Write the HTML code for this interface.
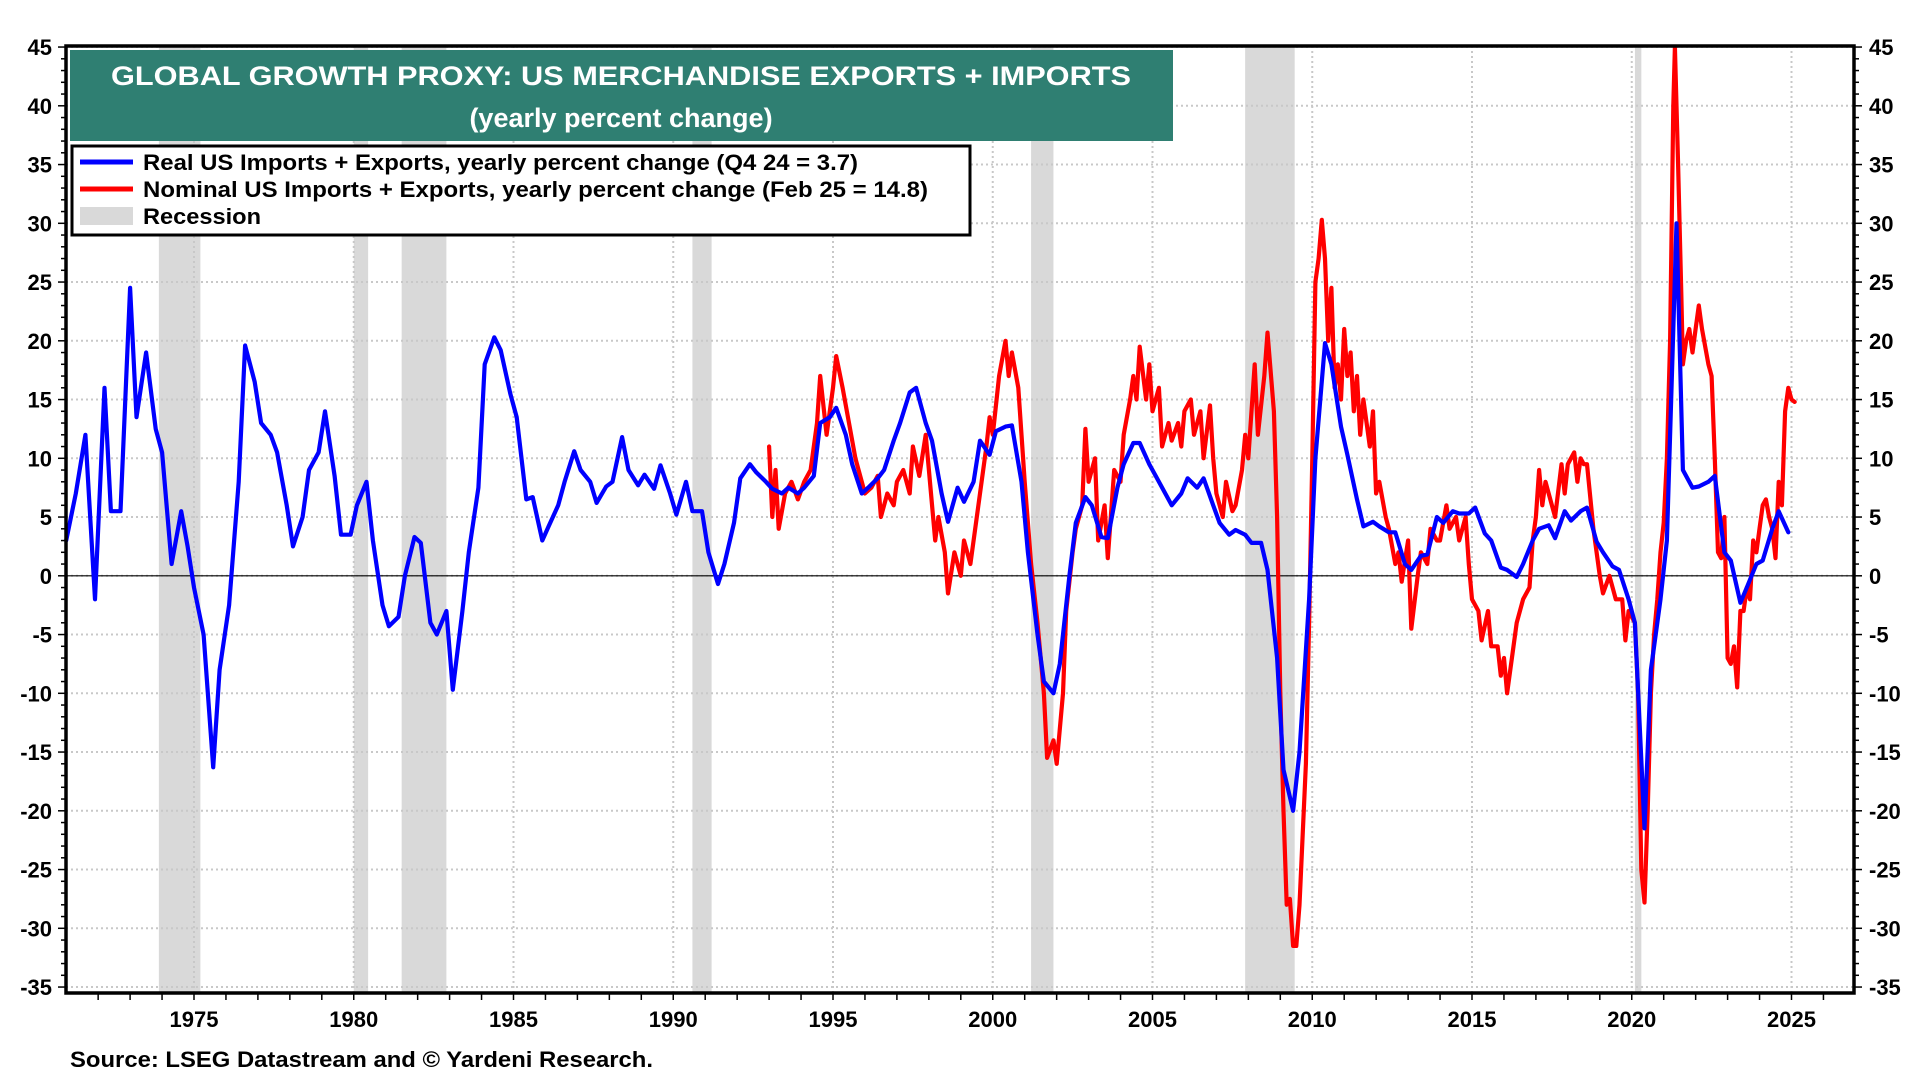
<!DOCTYPE html>
<html><head><meta charset="utf-8"><style>
html,body{margin:0;padding:0;background:#fff;}
svg{display:block;font-family:"Liberation Sans",Arial,sans-serif;font-weight:bold;}
</style></head><body>
<svg id="chart" width="1920" height="1080" viewBox="0 0 1920 1080" xmlns="http://www.w3.org/2000/svg">
<g id="recess"></g>
<g id="grid"></g>
<line id="zero" stroke="#000" stroke-width="1.2"/>
<g id="series"></g>
<g id="axes"></g>
<rect x="66" y="46" width="1788" height="947" fill="none" stroke="#000" stroke-width="3.5"/>
<g>
<rect x="70" y="50" width="1103" height="91" fill="#2f7f72"/>
<text x="621" y="85" fill="#fff" font-size="27" text-anchor="middle" textLength="1020" lengthAdjust="spacingAndGlyphs">GLOBAL GROWTH PROXY: US MERCHANDISE EXPORTS + IMPORTS</text>
<text x="621" y="127" fill="#fff" font-size="27" text-anchor="middle">(yearly percent change)</text>
</g>
<g>
<rect x="72" y="146" width="898" height="89" fill="#fff" stroke="#000" stroke-width="3"/>
<line x1="80" y1="162" x2="133" y2="162" stroke="#0000ff" stroke-width="5"/>
<text x="143" y="170" font-size="22" textLength="715" lengthAdjust="spacingAndGlyphs">Real US Imports + Exports, yearly percent change (Q4 24 = 3.7)</text>
<line x1="80" y1="189" x2="133" y2="189" stroke="#ff0000" stroke-width="5"/>
<text x="143" y="197" font-size="22" textLength="785" lengthAdjust="spacingAndGlyphs">Nominal US Imports + Exports, yearly percent change (Feb 25 = 14.8)</text>
<rect x="80" y="207" width="53" height="18" fill="#d9d9d9"/>
<text x="143" y="224" font-size="22" textLength="118" lengthAdjust="spacingAndGlyphs">Recession</text>
</g>
<text x="70" y="1067" font-size="22" textLength="583" lengthAdjust="spacingAndGlyphs">Source: LSEG Datastream and © Yardeni Research.</text>
</svg>
<script>
const recessionStarts=[1973.9,1980.0,1981.5,1990.6,2001.2,2007.9,2020.1];
const recessionEnds=[1975.2,1980.45,1982.9,1991.2,2001.9,2009.45,2020.3];
const yTicks=[-35,-30,-25,-20,-15,-10,-5,0,5,10,15,20,25,30,35,40,45];
const xTickYears=[1975,1980,1985,1990,1995,2000,2005,2010,2015,2020,2025];
const realYears=[1971.0,1971.3,1971.6,1971.9,1972.2,1972.4,1972.7,1973.0,1973.2,1973.5,1973.8,1974.0,1974.3,1974.6,1974.8,1975.0,1975.3,1975.6,1975.8,1976.1,1976.4,1976.6,1976.9,1977.1,1977.4,1977.6,1977.9,1978.1,1978.4,1978.6,1978.9,1979.1,1979.4,1979.6,1979.9,1980.1,1980.4,1980.6,1980.9,1981.1,1981.4,1981.6,1981.9,1982.1,1982.4,1982.6,1982.9,1983.1,1983.4,1983.6,1983.9,1984.1,1984.4,1984.6,1984.9,1985.1,1985.4,1985.6,1985.9,1986.1,1986.4,1986.6,1986.9,1987.1,1987.4,1987.6,1987.9,1988.1,1988.4,1988.6,1988.9,1989.1,1989.4,1989.6,1989.9,1990.1,1990.4,1990.6,1990.9,1991.1,1991.4,1991.6,1991.9,1992.1,1992.4,1992.6,1992.9,1993.1,1993.4,1993.6,1993.9,1994.1,1994.4,1994.6,1994.9,1995.1,1995.4,1995.6,1995.9,1996.1,1996.4,1996.6,1996.9,1997.1,1997.4,1997.6,1997.9,1998.1,1998.4,1998.6,1998.9,1999.1,1999.4,1999.6,1999.9,2000.1,2000.4,2000.6,2000.9,2001.1,2001.4,2001.6,2001.9,2002.1,2002.4,2002.6,2002.9,2003.1,2003.4,2003.6,2003.9,2004.1,2004.4,2004.6,2004.9,2005.1,2005.4,2005.6,2005.9,2006.1,2006.4,2006.6,2006.9,2007.1,2007.4,2007.6,2007.9,2008.1,2008.4,2008.6,2008.9,2009.1,2009.4,2009.6,2009.9,2010.1,2010.4,2010.6,2010.9,2011.1,2011.4,2011.6,2011.9,2012.1,2012.4,2012.6,2012.9,2013.1,2013.4,2013.6,2013.9,2014.1,2014.4,2014.6,2014.9,2015.1,2015.4,2015.6,2015.9,2016.1,2016.4,2016.6,2016.9,2017.1,2017.4,2017.6,2017.9,2018.1,2018.4,2018.6,2018.9,2019.1,2019.4,2019.6,2019.9,2020.1,2020.4,2020.6,2020.9,2021.1,2021.4,2021.6,2021.9,2022.1,2022.4,2022.6,2022.9,2023.1,2023.4,2023.6,2023.9,2024.1,2024.4,2024.6,2024.9];
const realValues=[3,7,12,-2,16,5.5,5.5,24.5,13.5,19,12.5,10.5,1,5.5,2.5,-1,-5,-16.3,-8,-2.5,8,19.6,16.5,13,12,10.5,6,2.5,5,9,10.5,14,8.5,3.5,3.5,6,8,3,-2.5,-4.3,-3.5,0,3.3,2.8,-4,-5,-3,-9.7,-3,2,7.5,18,20.3,19.2,15.5,13.5,6.5,6.7,3,4.2,6,8,10.6,9,8,6.2,7.6,8,11.8,9,7.7,8.6,7.4,9.4,7,5.2,8,5.5,5.5,2,-0.7,1,4.5,8.3,9.5,8.8,8,7.4,7,7.5,7,7.5,8.5,13,13.5,14.3,12,9.5,7,7.5,8.3,9,11.5,13,15.6,16,13,11.5,7,4.6,7.5,6.3,8,11.5,10.3,12.3,12.7,12.8,8,2,-5,-9,-10,-7.5,0,4.5,6.7,6,3.3,3.2,7.5,9.5,11.3,11.3,9.5,8.5,7,6,7,8.3,7.5,8.3,6,4.5,3.5,3.9,3.5,2.8,2.8,0.5,-7,-16.5,-20,-15,-2,10,19.8,18,12.7,10.3,6.5,4.2,4.6,4.2,3.7,3.7,1,0.5,1.7,1.8,5,4.5,5.5,5.3,5.3,5.8,3.6,3,0.7,0.5,-0.1,1,3,4,4.3,3.2,5.5,4.7,5.5,5.8,2.9,2,0.8,0.5,-2,-4,-21.5,-8,-2,3,30,9,7.5,7.6,8,8.5,2,1.3,-2.3,-1,1,1.3,4,5.5,3.7];
const nominalYears=[1993.0,1993.1,1993.2,1993.3,1993.5,1993.7,1993.9,1994.1,1994.3,1994.5,1994.6,1994.8,1995.0,1995.1,1995.3,1995.5,1995.7,1995.9,1996.0,1996.2,1996.4,1996.5,1996.7,1996.9,1997.0,1997.2,1997.4,1997.5,1997.7,1997.9,1998.0,1998.2,1998.3,1998.5,1998.6,1998.8,1999.0,1999.1,1999.3,1999.5,1999.6,1999.8,1999.9,2000.0,2000.2,2000.4,2000.5,2000.6,2000.8,2000.9,2001.0,2001.2,2001.4,2001.6,2001.7,2001.9,2002.0,2002.2,2002.3,2002.5,2002.6,2002.8,2002.9,2003.0,2003.2,2003.3,2003.5,2003.6,2003.8,2004.0,2004.1,2004.3,2004.4,2004.5,2004.6,2004.8,2004.9,2005.0,2005.2,2005.3,2005.5,2005.6,2005.8,2005.9,2006.0,2006.2,2006.3,2006.5,2006.6,2006.8,2006.9,2007.0,2007.2,2007.3,2007.5,2007.6,2007.8,2007.9,2008.0,2008.2,2008.3,2008.5,2008.6,2008.8,2008.9,2009.0,2009.1,2009.2,2009.3,2009.4,2009.5,2009.6,2009.7,2009.8,2009.9,2010.0,2010.1,2010.2,2010.3,2010.4,2010.5,2010.6,2010.7,2010.8,2010.9,2011.0,2011.1,2011.2,2011.3,2011.4,2011.5,2011.6,2011.7,2011.8,2011.9,2012.0,2012.1,2012.3,2012.4,2012.6,2012.7,2012.8,2013.0,2013.1,2013.3,2013.4,2013.6,2013.7,2013.9,2014.0,2014.2,2014.3,2014.5,2014.6,2014.8,2014.9,2015.0,2015.2,2015.3,2015.5,2015.6,2015.8,2015.9,2016.0,2016.1,2016.3,2016.4,2016.6,2016.8,2016.9,2017.0,2017.1,2017.2,2017.3,2017.5,2017.6,2017.8,2017.9,2018.0,2018.2,2018.3,2018.4,2018.5,2018.6,2018.8,2018.9,2019.0,2019.1,2019.3,2019.4,2019.5,2019.7,2019.8,2019.9,2020.1,2020.2,2020.3,2020.4,2020.5,2020.6,2020.7,2020.8,2020.9,2021.0,2021.1,2021.2,2021.3,2021.35,2021.45,2021.55,2021.6,2021.7,2021.8,2021.9,2022.0,2022.1,2022.2,2022.4,2022.5,2022.6,2022.7,2022.8,2022.9,2023.0,2023.1,2023.2,2023.3,2023.4,2023.5,2023.6,2023.7,2023.8,2023.9,2024.0,2024.1,2024.2,2024.3,2024.4,2024.5,2024.6,2024.7,2024.8,2024.9,2025.0,2025.1];
const nominalValues=[11,5,9,4,7,8,6.5,8,9,13,17,12,16,18.7,16,13,10,8,7,7.5,8.5,5,7,6,8,9,7,11,8.5,12,9,3,5,2,-1.5,2,0,3,1,5,7,11,13.5,12,17,20,17,19,16,12,8,1,-4,-10,-15.5,-14,-16,-10,-3,2,4,6,12.5,8,10,3,6,1.5,9,8,12,15,17,15,19.5,15,18,14,16,11,13,11.5,13,11,14,15,12,14,10,14.5,10,7,5,8,5.5,6,9,12,10,18,12,17,20.7,14,5,-10,-20,-28,-27.5,-31.5,-31.5,-28,-22,-16,-4,10,25,27,30.3,27,20,24.5,16,18,15,21,17,19,14,17,12,15,13,11,14,7,8,5,4,1,2,-0.5,3,-4.5,0,2,1,4,3,3,6,4,5,3,5,1,-2,-3,-5.5,-3,-6,-6,-8.5,-7,-10,-6,-4,-2,-1,3,5,9,6,8,6,5,9.5,7,9.5,10.5,8,10,9.5,9.5,4,2,0,-1.5,0,-1,-2,-2,-5.5,-3,-4,-10,-25,-27.8,-20,-10,-5,-2,2,4.5,10,20,40,45,35,24,18,20,21,19,21,23,21,18,17,10,2,1.5,5,-7,-7.5,-6,-9.5,-3,-3,-1,-2,3,2,4,6,6.5,5,4,1.5,8,6,14,16,15,14.8];

const NS='http://www.w3.org/2000/svg';
const X0=66,X1=1854,Y0=46,Y1=993;
function xs(yr){return 194+(yr-1975)*31.95;}
function ys(v){return 575.8-v*11.75;}
function mk(tag,attrs,parent){const e=document.createElementNS(NS,tag);for(const k in attrs)e.setAttribute(k,attrs[k]);parent.appendChild(e);return e;}

const recG=document.getElementById('recess');
for(let i=0;i<recessionStarts.length;i++){
  const r=mk('rect',{x:xs(recessionStarts[i]),y:Y0,width:xs(recessionEnds[i])-xs(recessionStarts[i]),height:Y1-Y0,fill:'#d9d9d9'},recG);
  
  
}
const gridG=document.getElementById('grid');
yTicks.forEach(v=>{
  const l=mk('line',{x1:X0,x2:X1,y1:ys(v),y2:ys(v),stroke:'#c8c8c8','stroke-width':2,'stroke-dasharray':'2,3'},gridG);
  
  
});
xTickYears.forEach(yr=>{
  const l=mk('line',{x1:xs(yr),x2:xs(yr),y1:Y0,y2:Y1,stroke:'#c8c8c8','stroke-width':2,'stroke-dasharray':'2,3'},gridG);
  
  
});
const z=document.getElementById('zero');
z.setAttribute('x1',X0);z.setAttribute('x2',X1);z.setAttribute('y1',ys(0));z.setAttribute('y2',ys(0));

const serG=document.getElementById('series');
function line(xsArr,vals,color,name){
  let d='';
  for(let i=0;i<vals.length;i++)d+=(i?'L':'M')+xs(xsArr[i]).toFixed(1)+','+ys(vals[i]).toFixed(1);
  const p=mk('path',{d:d,fill:'none',stroke:color,'stroke-width':4.2,'stroke-linejoin':'round','stroke-linecap':'round'},serG);
  
  
}
line(nominalYears,nominalValues,'#ff0000','nominal-series-line');
line(realYears,realValues,'#0000ff','real-series-line');

const axG=document.getElementById('axes');
for(let v=-35;v<=45;v++){
  const len=(v%5===0)?8:5;
  mk('line',{x1:X0-len,x2:X0,y1:ys(v),y2:ys(v),stroke:'#000','stroke-width':1.5},axG);
  mk('line',{x1:X1,x2:X1+len,y1:ys(v),y2:ys(v),stroke:'#000','stroke-width':1.5},axG);
}
yTicks.forEach(v=>{
  const t=mk('text',{x:52,y:ys(v)+8,'font-size':22,'text-anchor':'end'},axG);
  t.textContent=v;
  
  
  const t2=mk('text',{x:1869,y:ys(v)+8,'font-size':22,'text-anchor':'start'},axG);
  t2.textContent=v;
  
  
});
for(let yr=1972;yr<=2026;yr++){
  mk('line',{x1:xs(yr),x2:xs(yr),y1:Y1,y2:Y1+7,stroke:'#000','stroke-width':1.5},axG);
}
xTickYears.forEach(yr=>{
  const t=mk('text',{x:xs(yr),y:1027,'font-size':22,'text-anchor':'middle'},axG);
  t.textContent=yr;
  
  
});
</script>
</body></html>
